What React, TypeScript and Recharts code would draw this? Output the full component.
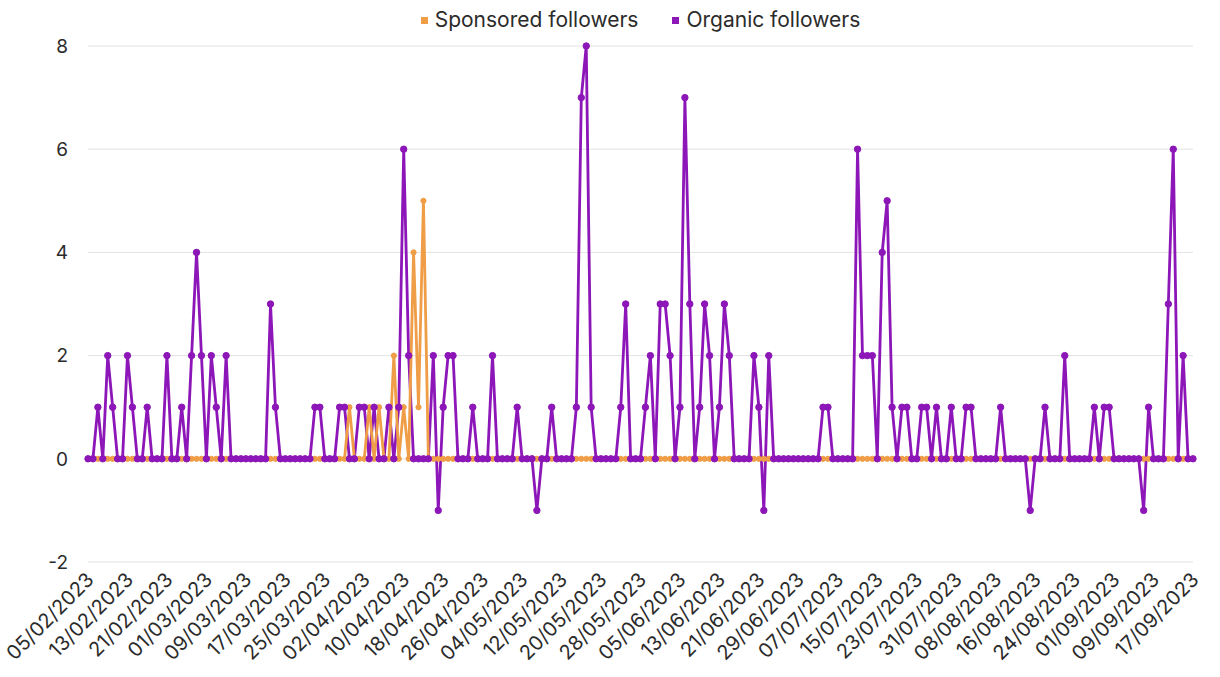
import { LineChart, Line, XAxis, YAxis, CartesianGrid, Legend } from 'recharts';

const FONT = 'Inter, "Noto Sans", sans-serif';
const ORANGE = '#EF9D47';
const PURPLE = '#8C16B7';

// daily values, one row per 8 days (matches the tick step)
const organic = [
  0, 0, 1, 0, 2, 1, 0, 0,
  2, 1, 0, 0, 1, 0, 0, 0,
  2, 0, 0, 1, 0, 2, 4, 2,
  0, 2, 1, 0, 2, 0, 0, 0,
  0, 0, 0, 0, 0, 3, 1, 0,
  0, 0, 0, 0, 0, 0, 1, 1,
  0, 0, 0, 1, 1, 0, 0, 1,
  1, 0, 1, 0, 0, 1, 0, 1,
  6, 2, 0, 0, 0, 0, 2, -1,
  1, 2, 2, 0, 0, 0, 1, 0,
  0, 0, 2, 0, 0, 0, 0, 1,
  0, 0, 0, -1, 0, 0, 1, 0,
  0, 0, 0, 1, 7, 8, 1, 0,
  0, 0, 0, 0, 1, 3, 0, 0,
  0, 1, 2, 0, 3, 3, 2, 0,
  1, 7, 3, 0, 1, 3, 2, 0,
  1, 3, 2, 0, 0, 0, 0, 2,
  1, -1, 2, 0, 0, 0, 0, 0,
  0, 0, 0, 0, 0, 1, 1, 0,
  0, 0, 0, 0, 6, 2, 2, 2,
  0, 4, 5, 1, 0, 1, 1, 0,
  0, 1, 1, 0, 1, 0, 0, 1,
  0, 0, 1, 1, 0, 0, 0, 0,
  0, 1, 0, 0, 0, 0, 0, -1,
  0, 0, 1, 0, 0, 0, 2, 0,
  0, 0, 0, 0, 1, 0, 1, 1,
  0, 0, 0, 0, 0, 0, -1, 1,
  0, 0, 0, 3, 6, 0, 2, 0,
  0,
];

const sponsored = [
  0, 0, 0, 0, 0, 0, 0, 0,
  0, 0, 0, 0, 0, 0, 0, 0,
  0, 0, 0, 0, 0, 0, 0, 0,
  0, 0, 0, 0, 0, 0, 0, 0,
  0, 0, 0, 0, 0, 0, 0, 0,
  0, 0, 0, 0, 0, 0, 0, 0,
  0, 0, 0, 0, 0, 1, 0, 0,
  0, 1, 0, 1, 0, 0, 2, 0,
  1, 0, 4, 1, 5, 0, 0, 0,
  0, 0, 0, 0, 0, 0, 0, 0,
  0, 0, 0, 0, 0, 0, 0, 0,
  0, 0, 0, 0, 0, 0, 0, 0,
  0, 0, 0, 0, 0, 0, 0, 0,
  0, 0, 0, 0, 0, 0, 0, 0,
  0, 0, 0, 0, 0, 0, 0, 0,
  0, 0, 0, 0, 0, 0, 0, 0,
  0, 0, 0, 0, 0, 0, 0, 0,
  0, 0, 0, 0, 0, 0, 0, 0,
  0, 0, 0, 0, 0, 0, 0, 0,
  0, 0, 0, 0, 0, 0, 0, 0,
  0, 0, 0, 0, 0, 0, 0, 0,
  0, 0, 0, 0, 0, 0, 0, 0,
  0, 0, 0, 0, 0, 0, 0, 0,
  0, 0, 0, 0, 0, 0, 0, 0,
  0, 0, 0, 0, 0, 0, 0, 0,
  0, 0, 0, 0, 0, 0, 0, 0,
  0, 0, 0, 0, 0, 0, 0, 0,
  0, 0, 0, 0, 0, 0, 0, 0,
  0,
];

const yTicks = [-2, 0, 2, 4, 6, 8];

const legendItems = [
  { label: 'Sponsored followers', color: ORANGE },
  { label: 'Organic followers', color: PURPLE },
];

// one category per day starting 05/02/2023
const pad = (n: number) => String(n).padStart(2, '0');
const dates = organic.map((_, i) => {
  const d = new Date(2023, 1, 5 + i);
  return `${pad(d.getDate())}/${pad(d.getMonth() + 1)}/${d.getFullYear()}`;
});

const data = dates.map((date, i) => ({
  date,
  sponsored: sponsored[i],
  organic: organic[i],
}));

function DateTick({ x, y, payload }: any) {
  return (
    <g transform={`translate(${x + 7},${y + 11})`}>
      <text
        x={0}
        y={0}
        textAnchor="end"
        transform="rotate(-45)"
        fill="#2b2b2b"
        fontSize={20}
        fontFamily={FONT}
      >
        {payload.value}
      </text>
    </g>
  );
}

function LegendContent() {
  return (
    <div
      style={{
        display: 'flex',
        justifyContent: 'center',
        gap: 34,
        paddingLeft: 88,
        fontFamily: FONT,
        fontSize: 21,
        color: '#2b2b2b',
        lineHeight: '24px',
      }}
    >
      {legendItems.map((item) => (
        <div key={item.label} style={{ display: 'flex', alignItems: 'center' }}>
          <span
            style={{
              display: 'inline-block',
              width: 7,
              height: 7,
              background: item.color,
              marginRight: 7,
            }}
          />
          {item.label}
        </div>
      ))}
    </div>
  );
}

export default function App() {
  return (
    <div style={{ position: 'absolute', left: 0, top: 0, background: '#fff' }}>
      <LineChart
        width={1220}
        height={677}
        data={data}
        margin={{ top: 22, right: 27, bottom: 0, left: 0 }}
      >
        <CartesianGrid vertical={false} stroke="#e3e3e3" />
        <XAxis
          dataKey="date"
          interval={7}
          tick={<DateTick />}
          tickLine={false}
          axisLine={false}
          height={115}
        />
        <YAxis
          domain={[-2, 8]}
          ticks={yTicks}
          width={88}
          tickLine={false}
          axisLine={false}
          tickMargin={14}
          tick={{ fill: '#2b2b2b', fontSize: 19, fontFamily: FONT }}
        />
        <Legend
          verticalAlign="top"
          height={24}
          wrapperStyle={{ top: 8 }}
          content={<LegendContent />}
        />
        <Line
          dataKey="organic"
          name="Organic followers"
          stroke={PURPLE}
          strokeWidth={2.8}
          dot={false}
          isAnimationActive={false}
        />
        <Line
          dataKey="sponsored"
          name="Sponsored followers"
          stroke={ORANGE}
          strokeWidth={2.8}
          dot={{ r: 2.6, fill: ORANGE, stroke: ORANGE, strokeWidth: 1 }}
          isAnimationActive={false}
        />
        <Line
          dataKey="organic"
          name="Organic followers (points)"
          stroke="none"
          strokeWidth={0}
          dot={{ r: 3.2, fill: PURPLE, stroke: PURPLE, strokeWidth: 1 }}
          isAnimationActive={false}
        />
      </LineChart>
    </div>
  );
}
